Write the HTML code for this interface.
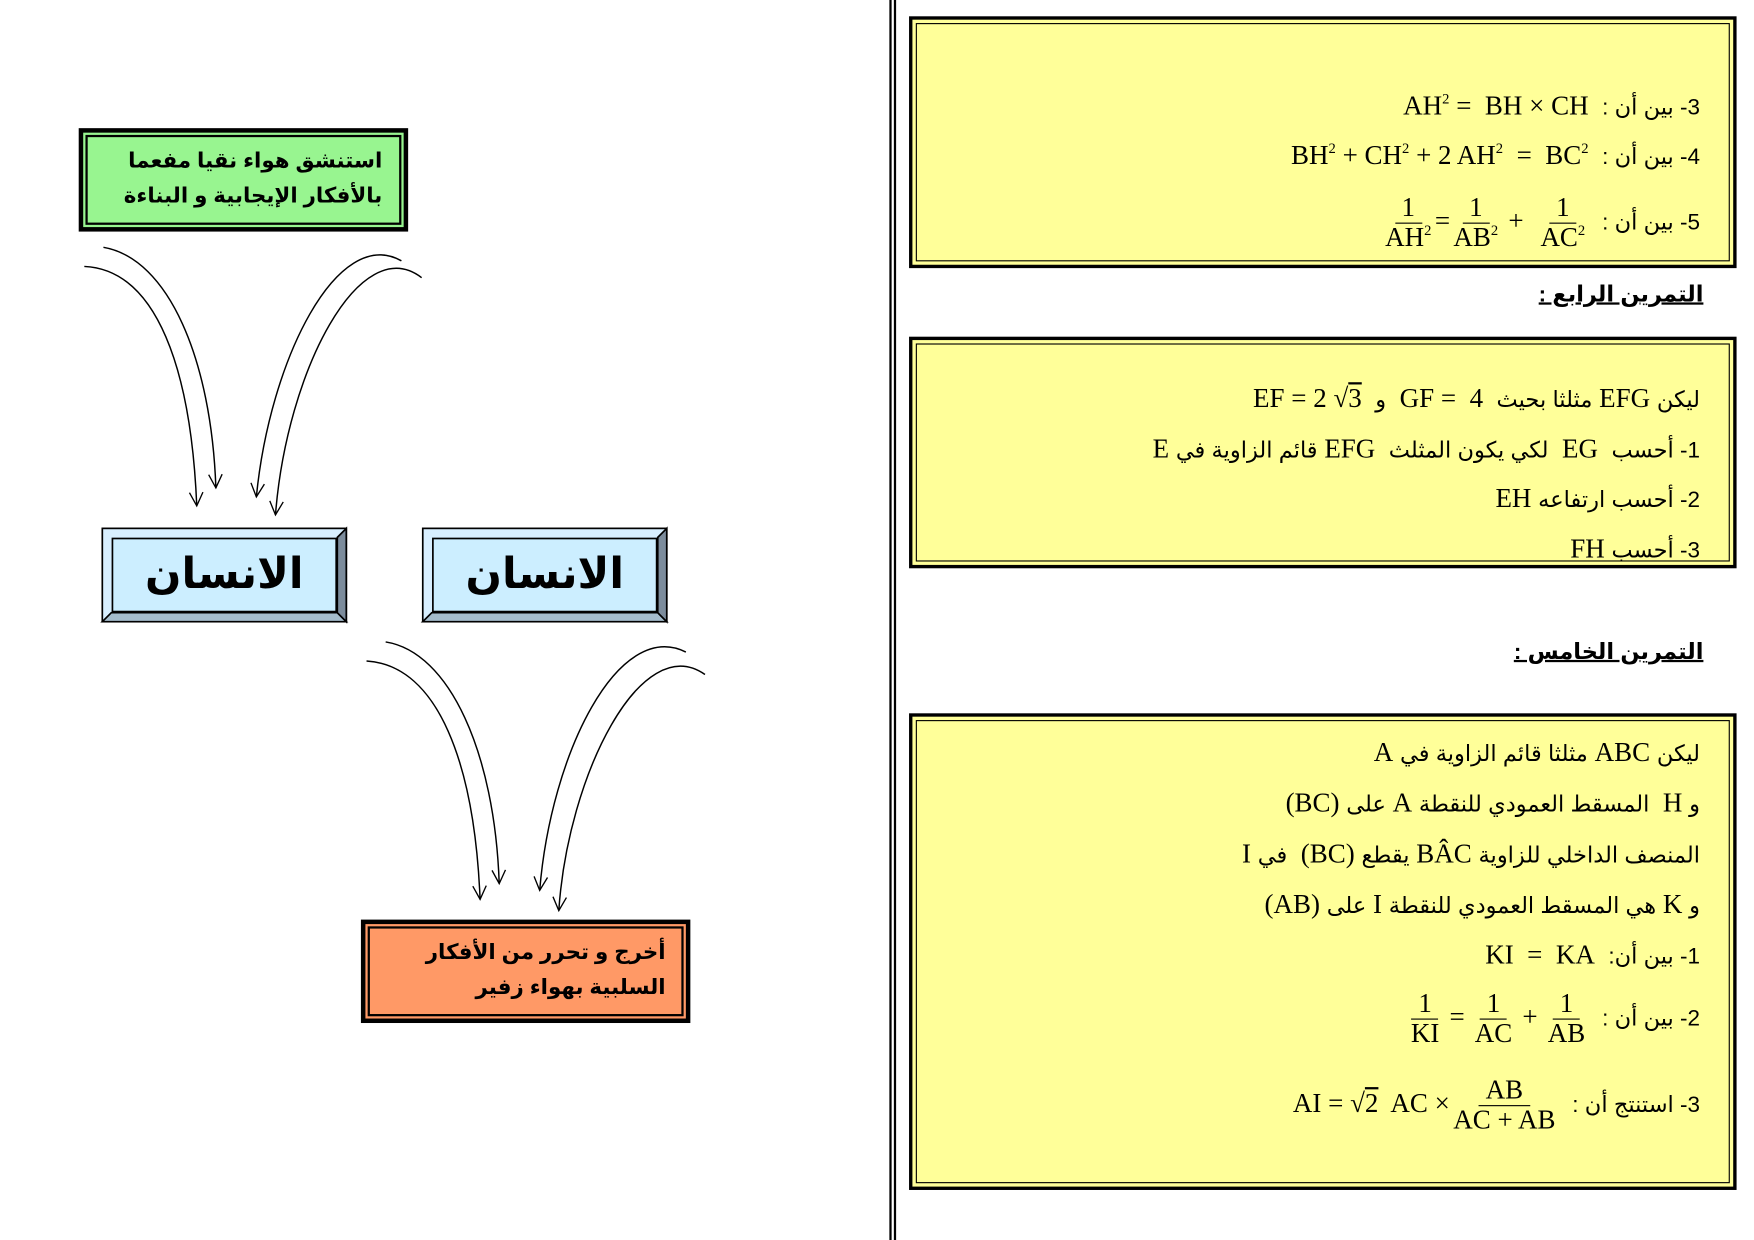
<!DOCTYPE html>
<html><head><meta charset="utf-8"><style>
body{margin:0;background:#fff;width:1754px;height:1240px;overflow:hidden}
#w{position:absolute;left:0;top:0;width:1560px;height:1103px;transform:scale(1.12436,1.1242);transform-origin:0 0}
.t{position:absolute;right:48px;direction:rtl;white-space:nowrap;font-family:"Liberation Serif","Noto Sans CJK SC",serif;font-size:24px;line-height:30px;color:#000}
.ar{font-family:"Liberation Sans","DejaVu Sans",sans-serif;font-size:20px}
.m{direction:ltr;unicode-bidi:isolate;display:inline-block}
sup{font-size:13px;vertical-align:10px;line-height:0}
.fr{display:inline-flex;flex-direction:column;align-items:center;vertical-align:middle;line-height:26px;margin:0 3px}
.fr span:first-child{border-bottom:1.5px solid #000;padding:0 6px}
.h{position:absolute;direction:rtl;font-family:"Liberation Sans","DejaVu Sans",sans-serif;font-weight:bold;font-size:20px;text-decoration:underline;white-space:nowrap}
.bx{position:absolute;direction:rtl;font-family:"Liberation Sans","DejaVu Sans",sans-serif;font-weight:bold;text-align:right;white-space:nowrap}
</style></head><body><div id="w">
<svg width="1560" height="1103" style="position:absolute;left:0;top:0">
<defs><marker id="a" markerWidth="16" markerHeight="16" refX="13" refY="7" orient="auto" markerUnits="userSpaceOnUse"><path d="M1,1 L13,7 L1,13" fill="none" stroke="#000" stroke-width="1.2"/></marker></defs>
<rect x="791" y="0" width="2" height="1103" fill="#000"/><rect x="795" y="0" width="2" height="1103" fill="#000"/>
<g fill="#ffff99" stroke="#000">
<rect x="810" y="16" width="733" height="221" stroke-width="3"/><rect x="815" y="21" width="723" height="211" stroke-width="1" fill="none"/>
<rect x="810" y="301" width="733" height="203" stroke-width="3"/><rect x="815" y="306" width="723" height="193" stroke-width="1" fill="none"/>
<rect x="810" y="636" width="733" height="421" stroke-width="3"/><rect x="815" y="641" width="723" height="411" stroke-width="1" fill="none"/>
</g>
<rect x="70" y="114" width="293" height="92" fill="#000"/><rect x="74" y="118" width="285" height="84" fill="#98f590"/><rect x="77" y="121" width="279" height="78" fill="none" stroke="#000" stroke-width="2"/>
<rect x="321" y="818" width="293" height="92" fill="#000"/><rect x="325" y="822" width="285" height="84" fill="#ff9966"/><rect x="328" y="825" width="279" height="78" fill="none" stroke="#000" stroke-width="2"/>
<g stroke="#000" stroke-width="1.5">
<rect x="91" y="470" width="217" height="83" fill="#d8efff"/><polygon points="91,553 308,553 300,545 99,545" fill="#a4bccc"/><polygon points="308,470 308,553 300,545 300,478" fill="#7c8c9c"/><rect x="100" y="479" width="199" height="65" fill="#cceeff"/>
<rect x="376" y="470" width="217" height="83" fill="#d8efff"/><polygon points="376,553 593,553 585,545 384,545" fill="#a4bccc"/><polygon points="593,470 593,553 585,545 585,478" fill="#7c8c9c"/><rect x="385" y="479" width="199" height="65" fill="#cceeff"/>
</g>
<g fill="none" stroke="#000" stroke-width="1.3" marker-end="url(#a)">
<path d="M75,237 C140,240 170,330 175,450"/><path d="M92,220 C150,230 188,320 192,434"/>
<path d="M357,232 C300,200 240,320 228,442"/><path d="M375,247 C320,205 255,330 245,458"/>
<path d="M326,588 C390,592 422,680 427,800"/><path d="M343,571 C400,580 440,670 444,786"/>
<path d="M610,580 C550,550 490,670 480,792"/><path d="M627,600 C570,560 505,690 497,810"/>
</g>
</svg>
<div class="bx" style="right:1220px;top:128px;font-size:19px;line-height:31px">استنشق هواء نقيا مفعما<br>بالأفكار الإيجابية و البناءة</div>
<div class="bx" style="right:968px;top:832px;font-size:19px;line-height:31px">أخرج و تحرر من الأفكار<br>السلبية بهواء زفير</div>
<div class="bx" style="left:100px;width:199px;text-align:center;top:479px;font-size:38px;line-height:64px">الانسان</div>
<div class="bx" style="left:385px;width:199px;text-align:center;top:479px;font-size:38px;line-height:64px">الانسان</div>

<div class="t" style="top:80px"><span class="ar">3- بين أن :</span>&nbsp;&nbsp;<span class="m">AH<sup>2</sup> = &nbsp;BH × CH</span></div>
<div class="t" style="top:124px"><span class="ar">4- بين أن :</span>&nbsp;&nbsp;<span class="m">BH<sup>2</sup> + CH<sup>2</sup> + 2 AH<sup>2</sup> &nbsp;= &nbsp;BC<sup>2</sup></span></div>
<div class="t" style="top:172px"><span class="ar">5- بين أن :</span>&nbsp;&nbsp;<span class="m"><span class="fr"><span>1</span><span>AH<sup>2</sup></span></span>=<span class="fr"><span>1</span><span>AB<sup>2</sup></span></span> + &nbsp;<span class="fr"><span>1</span><span>AC<sup>2</sup></span></span></span></div>
<div class="h" style="right:45px;top:249px">التمرين الرابع :</div>
<div class="t" style="top:340px"><span class="ar">ليكن</span> <span class="m">EFG</span> <span class="ar">مثلثا بحيث</span>&nbsp; <span class="m">GF = &nbsp;4</span> &nbsp;<span class="ar">و</span>&nbsp; <span class="m">EF = 2 √<span style="text-decoration:overline">3</span></span></div>
<div class="t" style="top:385px"><span class="ar">1- أحسب</span>&nbsp; <span class="m">EG</span>&nbsp; <span class="ar">لكي يكون المثلث</span>&nbsp; <span class="m">EFG</span> <span class="ar">قائم الزاوية في</span> <span class="m">E</span></div>
<div class="t" style="top:429px"><span class="ar">2- أحسب ارتفاعه</span> <span class="m">EH</span></div>
<div class="t" style="top:474px"><span class="ar">3- أحسب</span> <span class="m">FH</span></div>
<div class="h" style="right:45px;top:567px">التمرين الخامس :</div>
<div class="t" style="top:655px"><span class="ar">ليكن</span> <span class="m">ABC</span> <span class="ar">مثلثا قائم الزاوية في</span> <span class="m">A</span></div>
<div class="t" style="top:700px"><span class="ar">و</span> <span class="m">H</span>&nbsp; <span class="ar">المسقط العمودي للنقطة</span> <span class="m">A</span> <span class="ar">على</span> <span class="m">(BC)</span></div>
<div class="t" style="top:745px"><span class="ar">المنصف الداخلي للزاوية</span> <span class="m">BÂC</span> <span class="ar">يقطع</span> <span class="m">(BC)</span>&nbsp; <span class="ar">في</span> <span class="m">I</span></div>
<div class="t" style="top:790px"><span class="ar">و</span> <span class="m">K</span> <span class="ar">هي المسقط العمودي للنقطة</span> <span class="m">I</span> <span class="ar">على</span> <span class="m">(AB)</span></div>
<div class="t" style="top:835px"><span class="ar">1- بين أن:</span>&nbsp; <span class="m">KI &nbsp;= &nbsp;KA</span></div>
<div class="t" style="top:880px"><span class="ar">2- بين أن :</span>&nbsp;&nbsp;<span class="m"><span class="fr"><span>1</span><span>KI</span></span>&nbsp;=&nbsp;<span class="fr"><span>1</span><span>AC</span></span>&nbsp;+&nbsp;<span class="fr"><span>1</span><span>AB</span></span></span></div>
<div class="t" style="top:957px"><span class="ar">3- استنتج أن :</span>&nbsp;&nbsp;<span class="m">AI = √<span style="text-decoration:overline">2</span>&nbsp; AC ×<span class="fr"><span>AB</span><span>AC + AB</span></span></span></div>
</div></body></html>
